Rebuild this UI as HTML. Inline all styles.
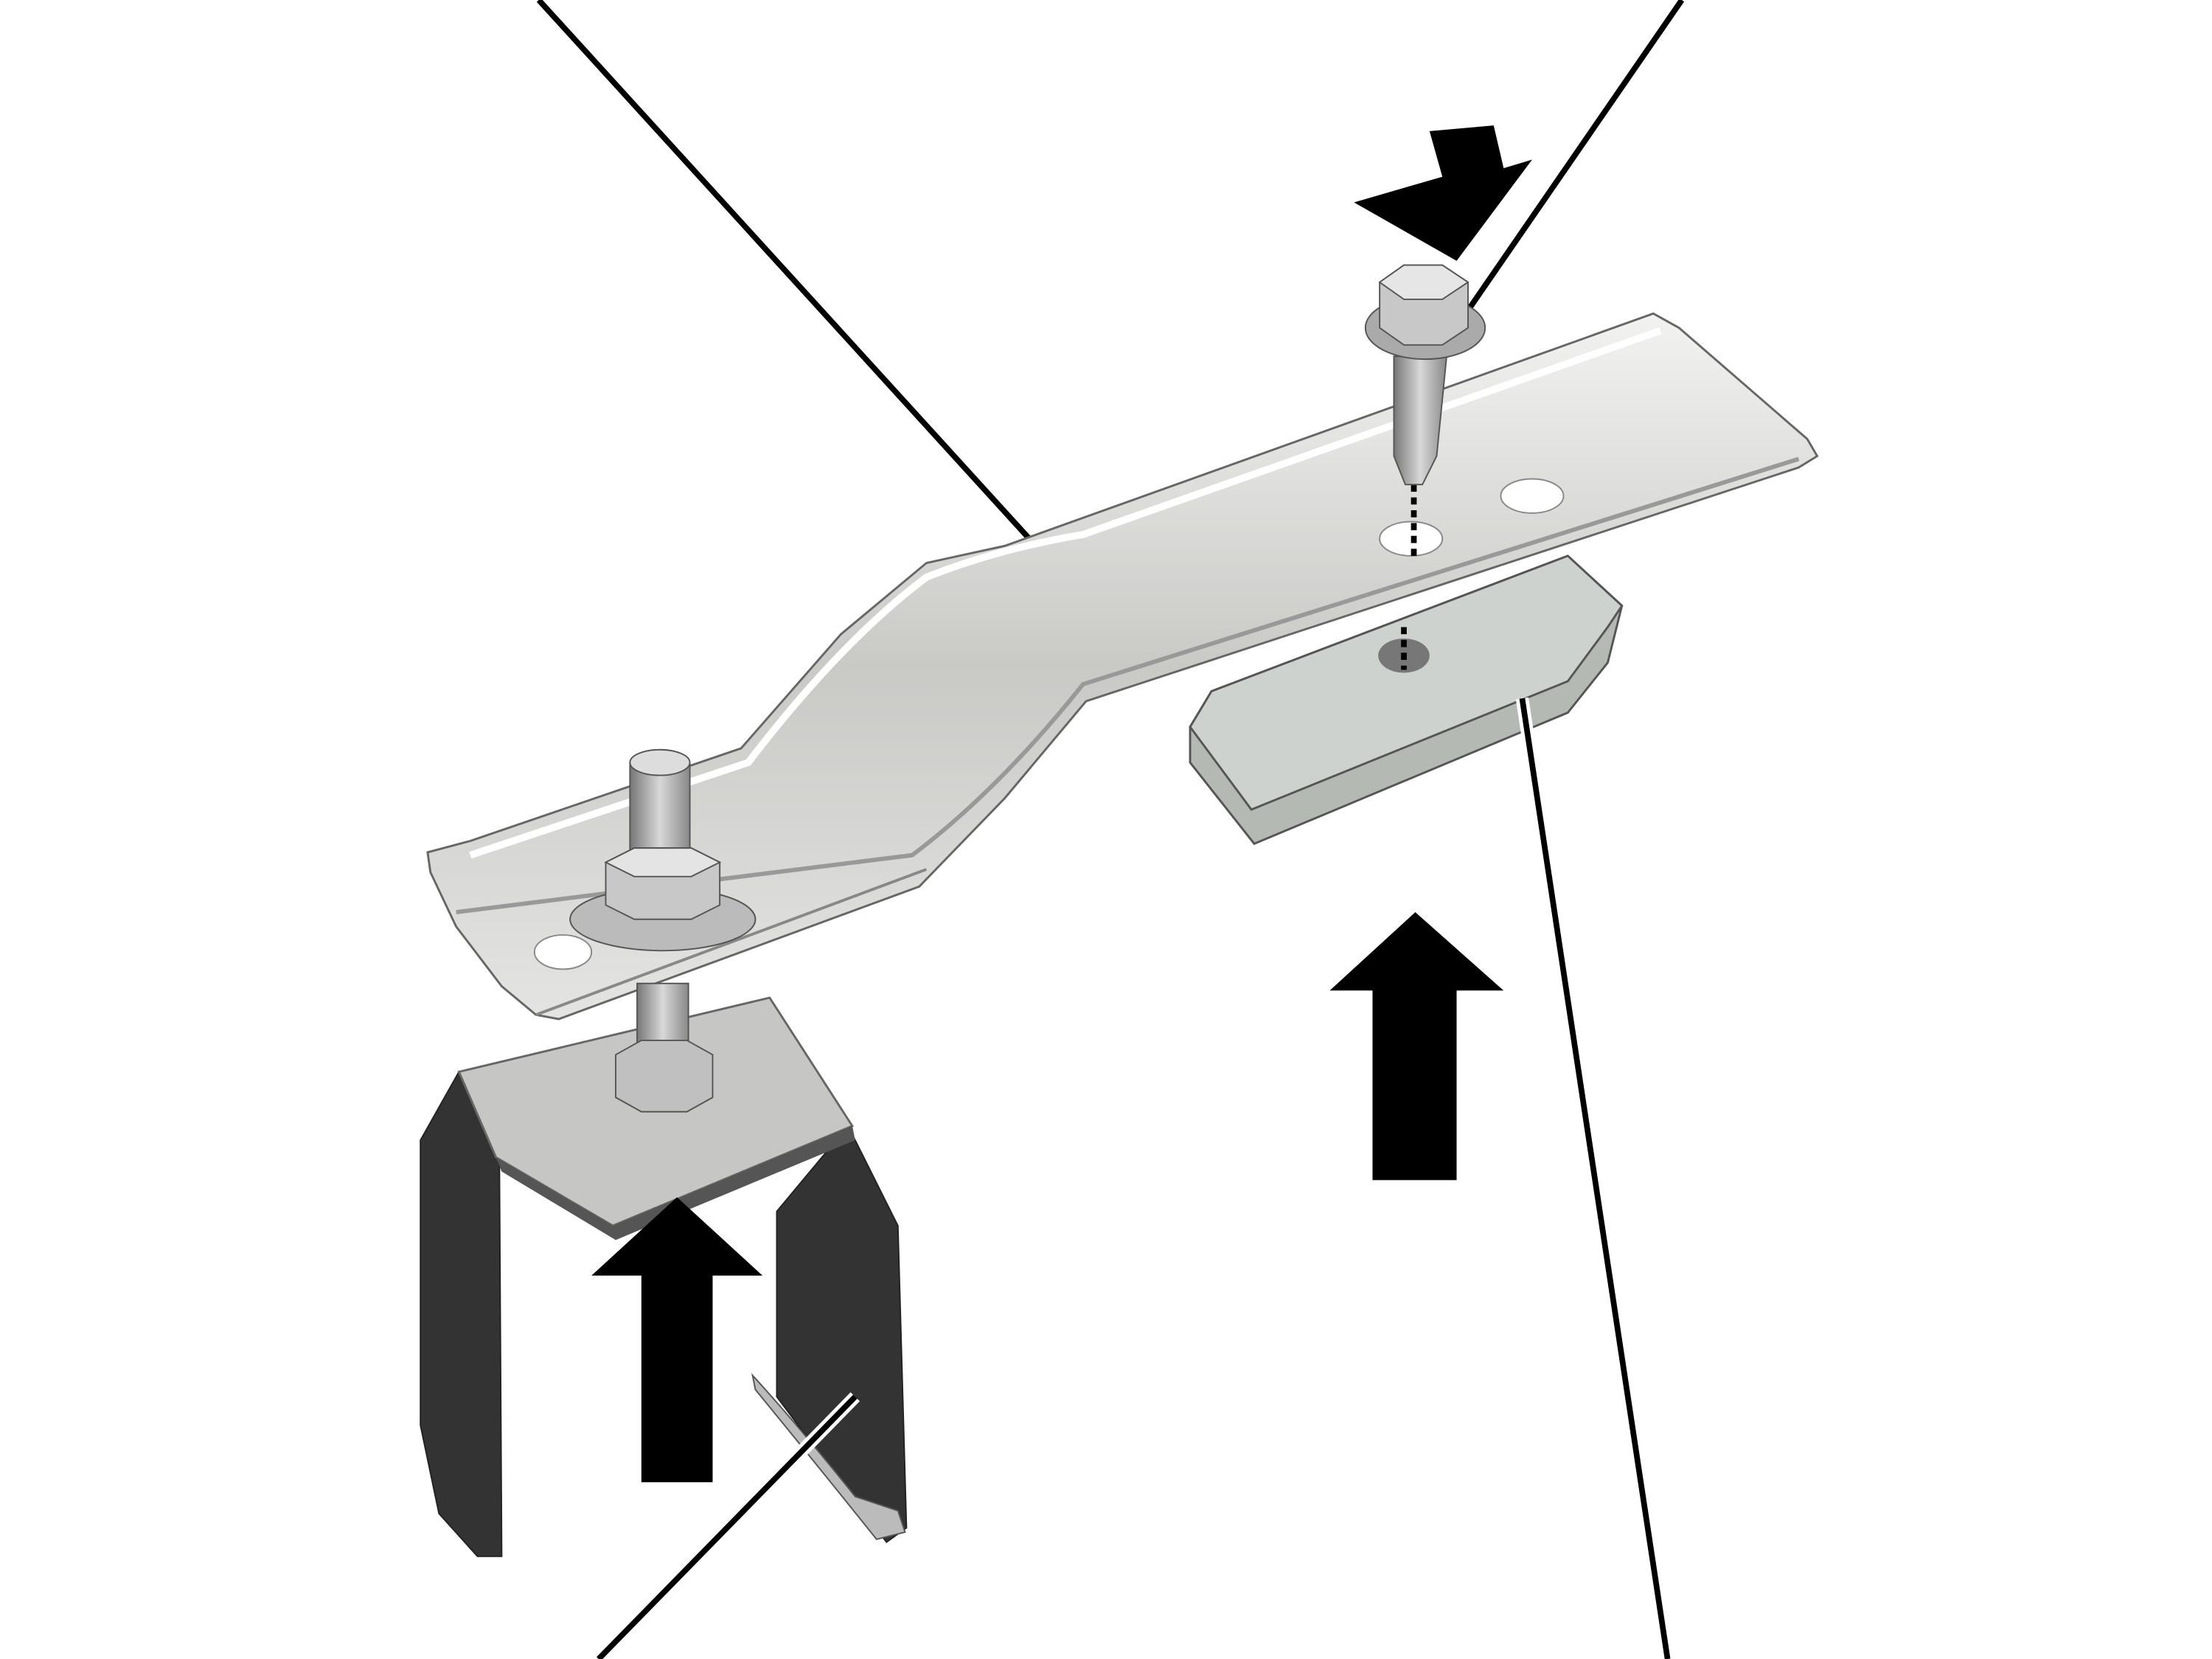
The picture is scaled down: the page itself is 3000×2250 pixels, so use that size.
<!DOCTYPE html>
<html><head><meta charset="utf-8"><style>
html,body{margin:0;padding:0;background:#fff;width:3000px;height:2250px;overflow:hidden}
svg{display:block}
</style></head><body>
<svg width="3000" height="2250" viewBox="0 0 1552 1164" xmlns="http://www.w3.org/2000/svg">
<defs>
<linearGradient id="rail" x1="0" y1="0" x2="0" y2="1">
<stop offset="0" stop-color="#f2f2f0"/><stop offset="0.5" stop-color="#c9c9c6"/><stop offset="1" stop-color="#e4e4e2"/>
</linearGradient>
<linearGradient id="bolt" x1="0" y1="0" x2="1" y2="0">
<stop offset="0" stop-color="#777"/><stop offset="0.5" stop-color="#d8d8d8"/><stop offset="1" stop-color="#888"/>
</linearGradient>
</defs>
<rect width="1552" height="1164" fill="#fff"/>
<g stroke-linecap="butt">
<line x1="378" y1="0" x2="765" y2="425" stroke="#fff" stroke-width="9"/>
<line x1="378" y1="0" x2="765" y2="425" stroke="#000" stroke-width="4"/>
<line x1="1180" y1="0" x2="1025" y2="225" stroke="#fff" stroke-width="9"/>
<line x1="1180" y1="0" x2="1025" y2="225" stroke="#000" stroke-width="4"/>
</g>
<!-- pad -->
<polygon points="835,510 850,485 1100,390 1138,425 1128,465 1100,500 880,592 835,535" fill="#b4b9b4" stroke="#555" stroke-width="1.5"/>
<polygon points="835,510 850,485 1100,390 1138,425 1128,440 1100,478 878,568" fill="#ced2ce" stroke="#555" stroke-width="1.5"/>
<ellipse cx="985" cy="460" rx="18" ry="12" fill="#777"/>
<line x1="985" y1="440" x2="985" y2="470" stroke="#000" stroke-width="4" stroke-dasharray="5,4"/>
<line x1="1068" y1="490" x2="1170" y2="1164" stroke="#fff" stroke-width="9"/>
<line x1="1068" y1="490" x2="1170" y2="1164" stroke="#000" stroke-width="4"/>
<!-- rail -->
<polygon points="300,598 330,590 520,525 590,445 650,395 705,383 1160,220 1178,230 1268,308 1275,320 1262,328 762,492 705,560 645,622 392,715 376,712 352,692 320,650 302,612" fill="url(#rail)" stroke="#666" stroke-width="1.5"/>
<path d="M330,600 L525,535 Q590,450 650,405 Q700,385 760,375 L1165,232" fill="none" stroke="#fff" stroke-width="5"/>
<path d="M320,640 L640,600 Q700,555 760,480 L1262,322" fill="none" stroke="#999" stroke-width="3"/>
<path d="M376,712 L650,610" fill="none" stroke="#888" stroke-width="2"/>
<ellipse cx="990" cy="378" rx="22" ry="12" fill="#fff" stroke="#888"/>
<ellipse cx="1075" cy="348" rx="22" ry="12" fill="#fff" stroke="#888"/>
<ellipse cx="395" cy="668" rx="20" ry="12" fill="#fff" stroke="#888"/>
<!-- right bolt -->
<line x1="992" y1="340" x2="992" y2="392" stroke="#000" stroke-width="4" stroke-dasharray="5,4"/>
<polygon points="978,250 1015,250 1008,320 998,340 986,340 978,320" fill="url(#bolt)" stroke="#555"/>
<ellipse cx="1000" cy="230" rx="42" ry="22" fill="#aaa" stroke="#555"/>
<polygon points="968,198 985,186 1012,186 1030,198 1030,230 1012,242 985,242 968,230" fill="#c8c8c8" stroke="#555"/>
<polygon points="968,198 985,186 1012,186 1030,198 1012,210 985,210" fill="#e6e6e6" stroke="#555"/>
<!-- down arrow -->
<polygon points="1003,92 1048,88 1055,118 1075,112 1022,183 950,142 1012,124" fill="#000"/>
<!-- bracket -->
<polygon points="295,800 322,752 350,748 352,1092 335,1092 308,1062 295,1000" fill="#333" stroke="#222"/>
<polygon points="545,850 595,790 630,860 636,1072 622,1082 560,1000 545,980" fill="#333" stroke="#222"/>
<polygon points="322,752 540,700 598,790 430,860 348,812" fill="#c6c6c4" stroke="#666" stroke-width="1.5"/>
<polygon points="348,812 430,860 598,790 600,800 432,870 352,822" fill="#555"/>
<path d="M528,965 Q560,1000 600,1050 L630,1060 L635,1075 L615,1080 Q575,1030 530,975 Z" fill="#bbb" stroke="#555"/>
<!-- left bolt -->
<rect x="442" y="535" width="42" height="68" fill="url(#bolt)" stroke="#555"/>
<ellipse cx="463" cy="535" rx="21" ry="9" fill="#ddd" stroke="#555"/>
<rect x="447" y="690" width="36" height="50" fill="url(#bolt)" stroke="#555"/>
<ellipse cx="465" cy="645" rx="65" ry="22" fill="#bbb" stroke="#555"/>
<polygon points="425,605 445,595 485,595 505,605 505,635 485,645 445,645 425,635" fill="#c8c8c8" stroke="#555"/>
<polygon points="425,605 445,595 485,595 505,605 485,615 445,615" fill="#e4e4e4" stroke="#555"/>
<polygon points="432,740 450,730 482,730 500,740 500,770 482,780 450,780 432,770" fill="#c0c0c0" stroke="#555"/>
<!-- up arrows -->
<polygon points="475,840 535,895 500,895 500,1040 450,1040 450,895 415,895" fill="#000"/>
<polygon points="993,640 1055,695 1022,695 1022,828 963,828 963,695 933,695" fill="#000"/>
<line x1="600" y1="980" x2="420" y2="1164" stroke="#fff" stroke-width="9"/>
<line x1="600" y1="980" x2="420" y2="1164" stroke="#000" stroke-width="4"/>
</svg>
</body></html>
